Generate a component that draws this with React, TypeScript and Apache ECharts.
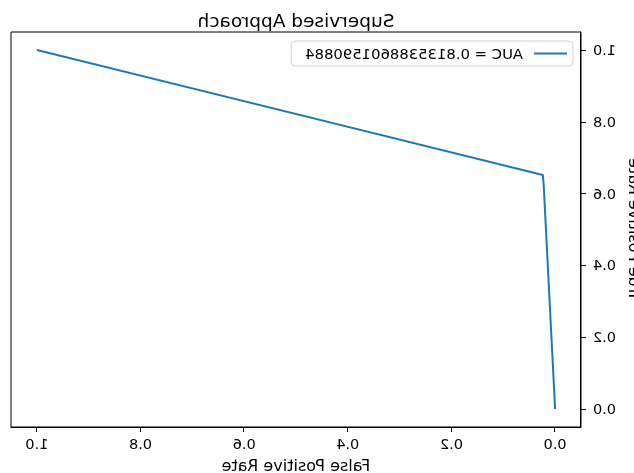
import React, { useEffect, useRef } from "react";
import * as echarts from "echarts";

const fpr = [0.0, 0.022, 0.0237, 1.0];
const tpr = [0.0, 0.624, 0.652, 1.0];
const tickValues = [0, 0.2, 0.4, 0.6, 0.8, 1.0];
const legendLabel = "AUC = 0.8135388601590884";
const titleText = "Supervised Approach";
const xName = "False Positive Rate";
const yName = "True Positive Rate";

export default function App() {
  const ref = useRef<HTMLDivElement>(null);
  useEffect(() => {
    if (!ref.current) return;
    const chart = echarts.init(ref.current, null, { renderer: "svg" });
    const font = "DejaVu Sans";
    const axisCommon = {
      min: -0.05,
      max: 1.05,
      axisLine: { show: true, onZero: false, lineStyle: { color: "#000", width: 1 } },
      axisTick: {
        show: true,
        inside: false,
        length: 5,
        customValues: tickValues,
        lineStyle: { color: "#000", width: 1 },
      },
      axisLabel: {
        customValues: tickValues,
        color: "#000",
        fontFamily: font,
        fontSize: 14.5,
        formatter: (v: number) => v.toFixed(1),
      },
      splitLine: { show: false },
      nameLocation: "middle" as const,
      nameTextStyle: { color: "#000", fontFamily: font, fontSize: 16 },
    };
    chart.setOption({
      animation: false,
      backgroundColor: "#fff",
      title: {
        text: titleText,
        left: 333,
        textAlign: "center",
        top: 6,
        textStyle: { fontFamily: font, fontSize: 18.5, fontWeight: "normal", color: "#000" },
      },
      grid: {
        left: 53,
        right: 11,
        top: 32,
        bottom: 46,
        show: true,
        borderColor: "#000",
        borderWidth: 1,
        containLabel: false,
        outerBoundsMode: "none",
      },
      legend: {
        left: 61,
        top: 41,
        orient: "vertical",
        itemWidth: 33,
        itemHeight: 2,
        itemGap: 0,
        padding: [5, 14, 5, 6],
        borderColor: "#d0d0d0",
        borderWidth: 1,
        borderRadius: 4,
        backgroundColor: "rgba(255,255,255,0.8)",
        textStyle: { fontFamily: font, fontSize: 14.8, color: "#000", padding: [0, 0, 0, 6] },
        data: [{ name: legendLabel, icon: "rect" }],
      },
      xAxis: {
        type: "value",
        ...axisCommon,
        axisLabel: { ...axisCommon.axisLabel, margin: 9 },
        name: xName,
        nameGap: 30,
      },
      yAxis: {
        type: "value",
        ...axisCommon,
        axisLabel: { ...axisCommon.axisLabel, margin: 12 },
        name: yName,
        nameGap: 46,
      },
      series: [
        {
          type: "line",
          name: legendLabel,
          data: fpr.map((x, i) => [x, tpr[i]]),
          showSymbol: false,
          symbol: "none",
          lineStyle: { color: "#1f77b4", width: 2 },
          itemStyle: { color: "#1f77b4" },
        },
      ],
    });
    return () => chart.dispose();
  }, []);
  return (
    <div
      ref={ref}
      style={{
        position: "fixed",
        left: 0,
        top: 0,
        width: 634,
        height: 473,
        transform: "scaleX(-1)",
        background: "#fff",
      }}
    />
  );
}
